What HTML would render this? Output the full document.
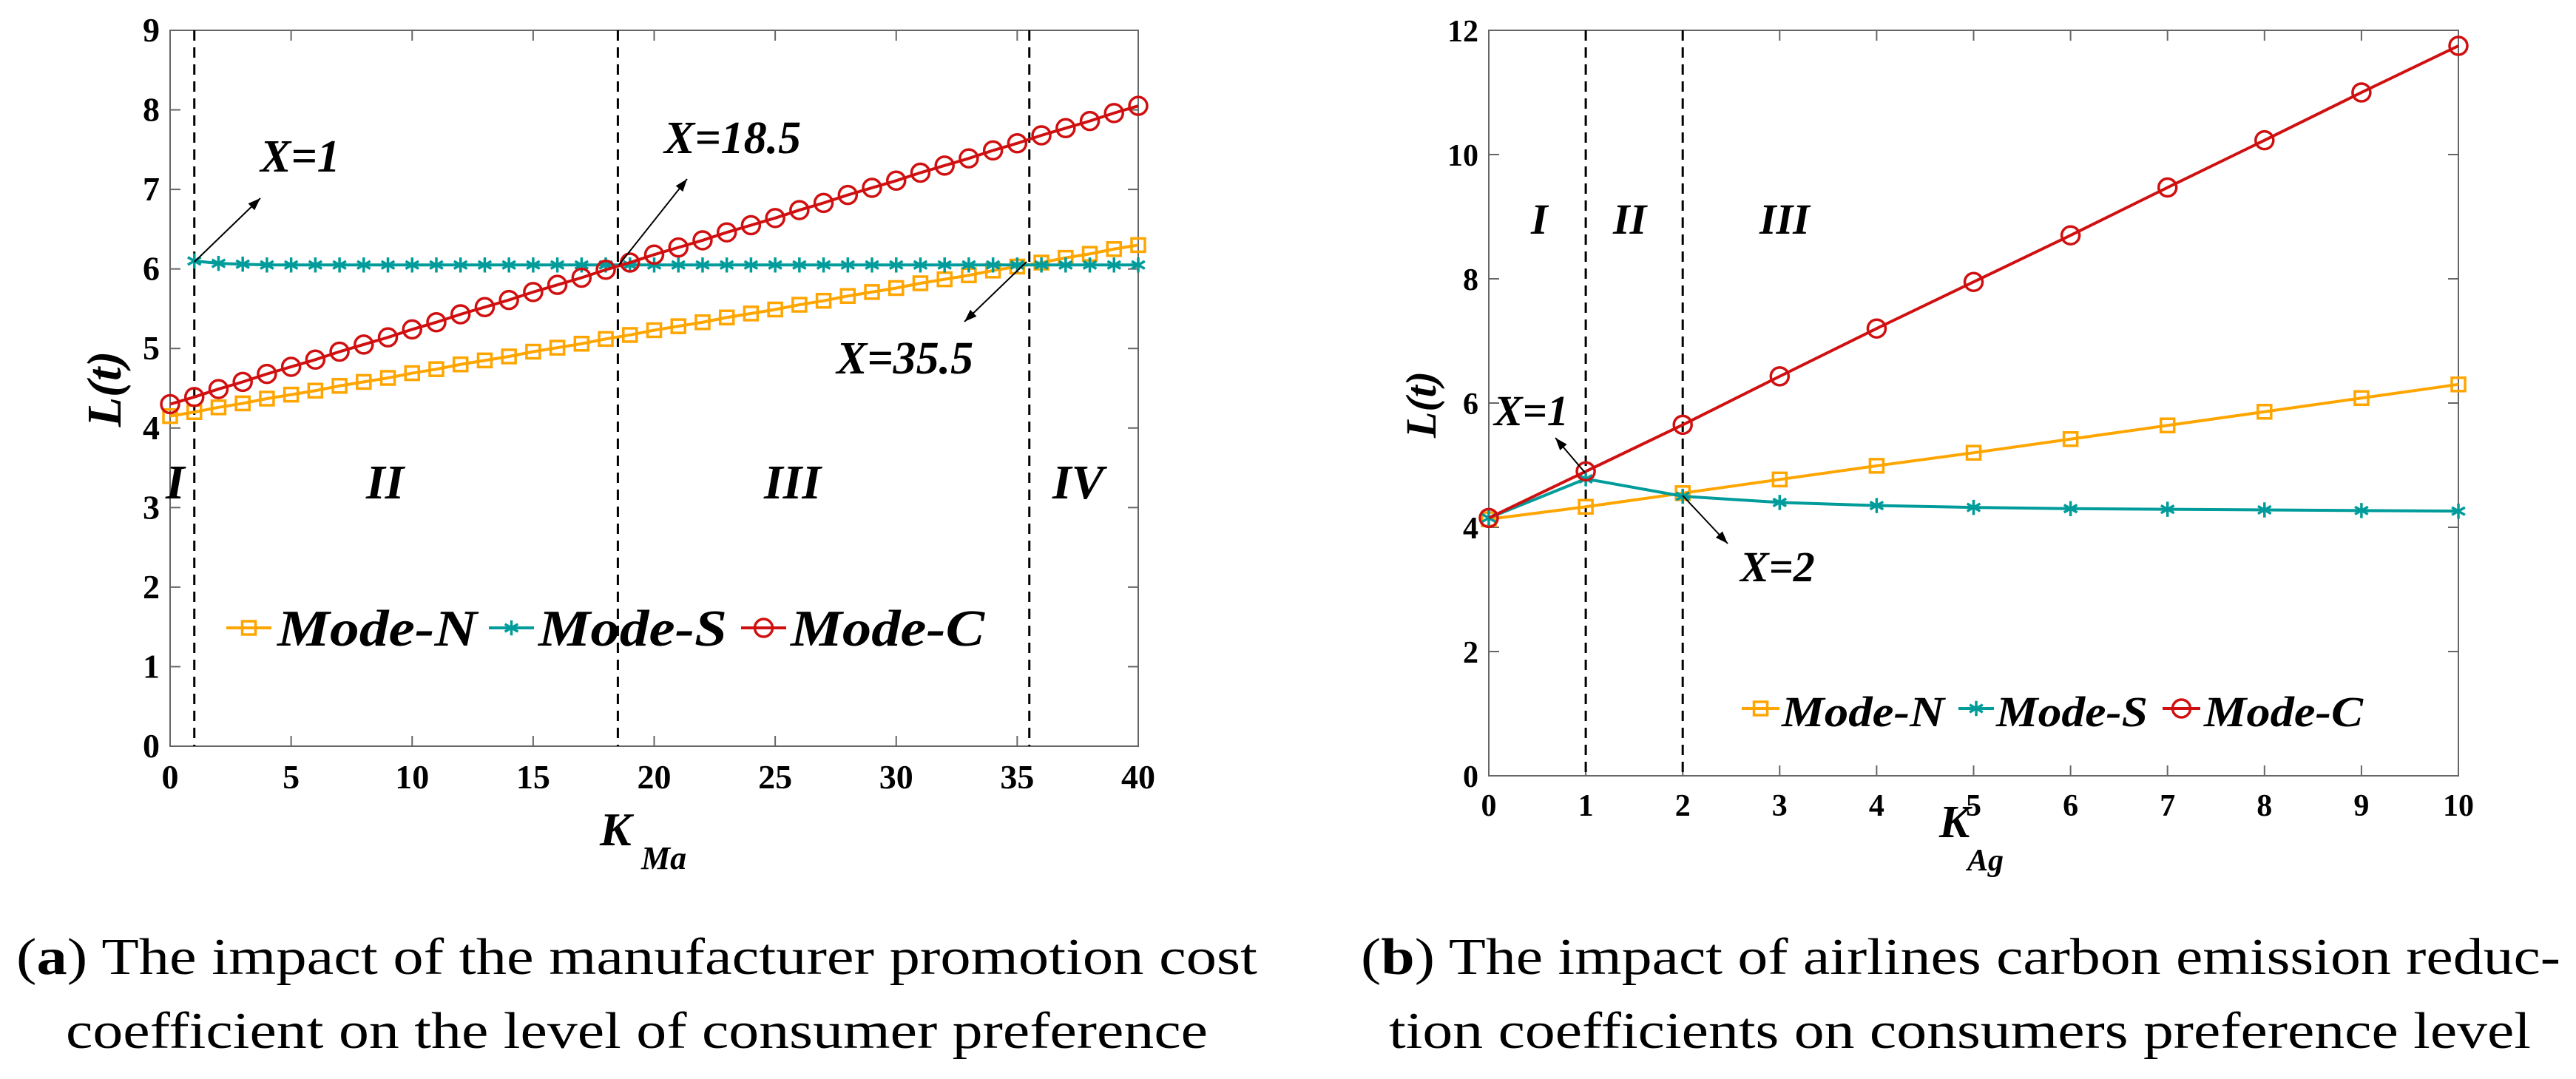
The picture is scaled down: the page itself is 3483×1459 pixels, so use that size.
<!DOCTYPE html>
<html><head><meta charset="utf-8"><style>
html,body{margin:0;padding:0;background:#fff;}
svg{display:block;}
text{font-family:"Liberation Serif",serif;}
</style></head><body>
<svg id="s" width="3483" height="1459" viewBox="0 0 3483 1459" xmlns="http://www.w3.org/2000/svg"></svg>
<script>
// ---- Chart (a) data ----
const aX = [0,1,2,3,4,5,6,7,8,9,10,11,12,13,14,15,16,17,18,19,20,21,22,23,24,25,26,27,28,29,30,31,32,33,34,35,36,37,38,39,40];
const aModeN = [4.15,4.20,4.26,4.31,4.37,4.42,4.47,4.53,4.58,4.63,4.69,4.74,4.80,4.85,4.90,4.96,5.01,5.06,5.12,5.17,5.23,5.28,5.33,5.39,5.44,5.49,5.55,5.60,5.66,5.71,5.76,5.82,5.87,5.92,5.98,6.03,6.08,6.14,6.19,6.25,6.30];
const aModeSX = [1,2,3,4,5,6,7,8,9,10,11,12,13,14,15,16,17,18,19,20,21,22,23,24,25,26,27,28,29,30,31,32,33,34,35,36,37,38,39,40];
const aModeS = [6.10,6.07,6.06,6.05,6.05,6.05,6.05,6.05,6.05,6.05,6.05,6.05,6.05,6.05,6.05,6.05,6.05,6.05,6.05,6.05,6.05,6.05,6.05,6.05,6.05,6.05,6.05,6.05,6.05,6.05,6.05,6.05,6.05,6.05,6.05,6.05,6.05,6.05,6.05,6.05];
const aModeC = [4.30,4.39,4.49,4.58,4.68,4.77,4.86,4.96,5.05,5.14,5.24,5.33,5.43,5.52,5.61,5.71,5.80,5.89,5.99,6.08,6.18,6.27,6.36,6.46,6.55,6.64,6.74,6.83,6.93,7.02,7.11,7.21,7.30,7.39,7.49,7.58,7.68,7.77,7.86,7.96,8.05];
const aXTicks = [0,5,10,15,20,25,30,35,40];
const aYTicks = [0,1,2,3,4,5,6,7,8,9];
const aVLines = [1,18.5,35.5];
// ---- Chart (b) data ----
const bX = [0,1,2,3,4,5,6,7,8,9,10];
const bModeN = [4.13,4.33,4.55,4.77,4.99,5.20,5.42,5.64,5.86,6.08,6.30];
const bModeS = [4.15,4.78,4.50,4.40,4.35,4.32,4.30,4.29,4.28,4.27,4.26];
const bModeC = [4.15,4.90,5.65,6.43,7.20,7.95,8.70,9.47,10.23,11.00,11.75];
const bXTicks = [0,1,2,3,4,5,6,7,8,9,10];
const bYTicks = [0,2,4,6,8,10,12];
const bVLines = [1,2];

const NS="http://www.w3.org/2000/svg";
const svg=document.getElementById('s');
function mk(tag,attrs,parent){const e=document.createElementNS(NS,tag);for(const k in attrs)e.setAttribute(k,attrs[k]);(parent||svg).appendChild(e);return e;}
function txt(s,attrs,parent){const e=mk('text',attrs,parent);e.textContent=s;return e;}
const OR="#FFA500",TE="#009B9B",RD="#D01010";

function chart(cfg){
  const g=mk('g',{});
  
  
  const sx=v=>cfg.L+(v-cfg.xmin)/(cfg.xmax-cfg.xmin)*(cfg.R-cfg.L);
  const sy=v=>cfg.B-(v-cfg.ymin)/(cfg.ymax-cfg.ymin)*(cfg.B-cfg.T);
  const box=mk('rect',{x:cfg.L,y:cfg.T,width:cfg.R-cfg.L,height:cfg.B-cfg.T,fill:'none',stroke:'#666','stroke-width':2},g);
  
  
  cfg.xt.forEach(v=>{
    const x=sx(v);
    mk('line',{x1:x,x2:x,y1:cfg.B,y2:cfg.B-14,stroke:'#666','stroke-width':2},g);
    mk('line',{x1:x,x2:x,y1:cfg.T,y2:cfg.T+14,stroke:'#666','stroke-width':2},g);
    const t=txt(String(v),{x:x,y:cfg.B+cfg.xlOff,'text-anchor':'middle','font-size':cfg.tfs,'font-weight':'bold'},g);
    
    
  });
  cfg.yt.forEach(v=>{
    const y=sy(v);
    mk('line',{x1:cfg.L,x2:cfg.L+14,y1:y,y2:y,stroke:'#666','stroke-width':2},g);
    mk('line',{x1:cfg.R,x2:cfg.R-14,y1:y,y2:y,stroke:'#666','stroke-width':2},g);
    const t=txt(String(v),{x:cfg.L-14,y:y+15,'text-anchor':'end','font-size':cfg.tfs,'font-weight':'bold'},g);
    
    
  });
  cfg.vl.forEach(v=>{
    const l=mk('line',{x1:sx(v),x2:sx(v),y1:cfg.T,y2:cfg.B,stroke:'#000','stroke-width':3,'stroke-dasharray':'14,9'},g);
    
    
  });
  function series(xs,ys,col,mark,name){
    const sg=mk('g',{},g);
    
    
    mk('polyline',{points:xs.map((x,i)=>sx(x)+','+sy(ys[i])).join(' '),fill:'none',stroke:col,'stroke-width':4},sg);
    xs.forEach((x,i)=>marker(sx(x),sy(ys[i]),col,mark,sg,cfg.ms));
  }
  series(cfg.x,cfg.n,OR,'sq','series-mode-n');
  series(cfg.sx,cfg.s,TE,'st','series-mode-s');
  series(cfg.x,cfg.c,RD,'ci','series-mode-c');
  return {g,sx,sy};
}
function marker(x,y,col,m,p,r){
  if(m==='sq')mk('rect',{x:x-r*0.75,y:y-r*0.75,width:r*1.5,height:r*1.5,fill:'none',stroke:col,'stroke-width':3.5},p);
  else if(m==='ci')mk('circle',{cx:x,cy:y,r:r,fill:'none',stroke:col,'stroke-width':3.5},p);
  else{for(let a=0;a<180;a+=60){const c=Math.cos(a*Math.PI/180)*r*0.85,s=Math.sin(a*Math.PI/180)*r*0.85;mk('line',{x1:x-s,y1:y-c,x2:x+s,y2:y+c,stroke:col,'stroke-width':3.5},p);}}
}
function arrow(x1,y1,x2,y2,p){
  mk('line',{x1,y1,x2,y2,stroke:'#000','stroke-width':2},p);
  const a=Math.atan2(y2-y1,x2-x1),L=18,w=0.35;
  mk('polygon',{points:`${x2},${y2} ${x2-L*Math.cos(a-w)},${y2-L*Math.sin(a-w)} ${x2-L*Math.cos(a+w)},${y2-L*Math.sin(a+w)}`,fill:'#000'},p);
}
function label(s,x,y,fs,name,p,anchor){
  const t=txt(s,{x,y,'font-size':fs,'font-weight':'bold','font-style':'italic','text-anchor':anchor||'start'},p);
  
  
  return t;
}
function legend(p,y,items,fs){
  const lg=mk('g',{},p);
  
  
  items.forEach(it=>{
    const e=mk('g',{},lg);
    
    
    mk('line',{x1:it.l1,x2:it.l2,y1:y,y2:y,stroke:it.col,'stroke-width':4},e);
    marker((it.l1+it.l2)/2,y,it.col,it.m,e,12);
    txt(it.t,{x:it.tx,y:y+24,'font-size':fs,'font-weight':'bold','font-style':'italic',textLength:it.tw,lengthAdjust:'spacingAndGlyphs'},e);
  });
}

// Chart a
const A=chart({name:'chart-a',L:230,R:1539,T:41,B:1009,xmin:0,xmax:40,ymin:0,ymax:9,xt:aXTicks,yt:aYTicks,vl:aVLines,
  x:aX,n:aModeN,sx:aModeSX,s:aModeS,c:aModeC,tfs:46,xlOff:57,ms:12});
arrow(263,354,352,268,A.g); label('X=1',352,232,62,'annotation-x1',A.g);
arrow(837,358,929,242,A.g); label('X=18.5',898,207,62,'annotation-x18-5',A.g);
arrow(1388,354,1304,435,A.g); label('X=35.5',1131,505,62,'annotation-x35-5',A.g);
label('I',224,674,66,'region-i',A.g); label('II',495,674,66,'region-ii',A.g);
label('III',1033,674,66,'region-iii',A.g); label('IV',1423,674,66,'region-iv',A.g);
legend(A.g,849,[{l1:306,l2:367,col:OR,m:'sq',t:'Mode-N',tx:375,tw:270},{l1:661,l2:722,col:TE,m:'st',t:'Mode-S',tx:728,tw:255},{l1:1002,l2:1063,col:RD,m:'ci',t:'Mode-C',tx:1069,tw:262}],70);
let yl=label('L(t)',0,0,66,'y-axis-title',A.g,'middle'); yl.setAttribute('transform','translate(163,526) rotate(-90)');
let xk=label('K',811,1143,64,'x-axis-title',A.g);
let xs=label('Ma',867,1175,44,'x-axis-title-subscript',A.g);

// Chart b
const B=chart({name:'chart-b',L:2013,R:3324,T:41,B:1049,xmin:0,xmax:10,ymin:0,ymax:12,xt:bXTicks,yt:bYTicks,vl:bVLines,
  x:bX,n:bModeN,sx:bX,s:bModeS,c:bModeC,tfs:42,xlOff:54,ms:12});
arrow(2143,639,2103,592,B.g); label('X=1',2020,575,58,'annotation-x1',B.g);
arrow(2275,670,2336,735,B.g); label('X=2',2353,786,58,'annotation-x2',B.g);
label('I',2070,316,58,'region-i',B.g); label('II',2181,316,58,'region-ii',B.g); label('III',2379,316,58,'region-iii',B.g);
legend(B.g,958,[{l1:2355,l2:2406,col:OR,m:'sq',t:'Mode-N',tx:2409,tw:220},{l1:2648,l2:2696,col:TE,m:'st',t:'Mode-S',tx:2699,tw:205},{l1:2924,l2:2975,col:RD,m:'ci',t:'Mode-C',tx:2980,tw:215}],58);
yl=label('L(t)',0,0,58,'y-axis-title',B.g,'middle'); yl.setAttribute('transform','translate(1941,547) rotate(-90)');
label('K',2622,1132,62,'x-axis-title',B.g);
label('Ag',2660,1177,42,'x-axis-title-subscript',B.g);

// captions
function cap(html,x,y,w,name){
  const t=txt('',{x,y,'font-size':70,textLength:w,lengthAdjust:'spacingAndGlyphs'});
  t.innerHTML=html;
  
  
}
cap('(<tspan font-weight="bold">a</tspan>) The impact of the manufacturer promotion cost',22,1317,1678,'caption-a-line1');
cap('coefficient on the level of consumer preference',89,1417,1544,'caption-a-line2');
cap('(<tspan font-weight="bold">b</tspan>) The impact of airlines carbon emission reduc-',1840,1317,1622,'caption-b-line1');
cap('tion coefficients on consumers preference level',1878,1417,1544,'caption-b-line2');
</script>
</body></html>
